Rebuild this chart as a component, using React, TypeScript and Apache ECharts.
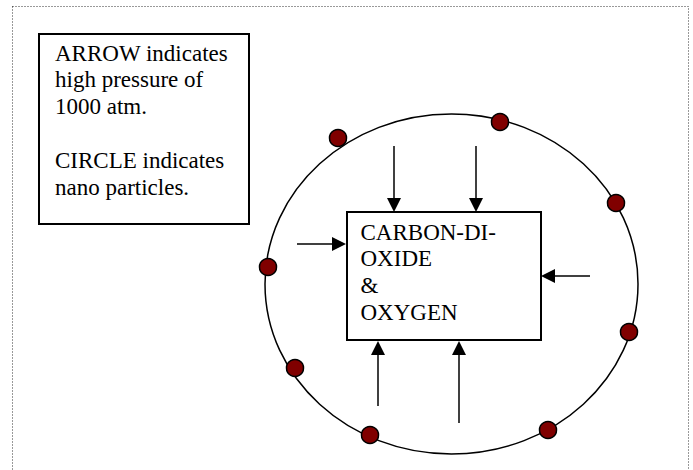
import React, { useEffect, useRef } from "react";
import * as echarts from "echarts";

// Nanoparticles (dots) on the ring, in pixel-like data units
const dotX = [338, 500, 616, 629, 548, 370, 295, 268];
const dotY = [138, 122, 203, 332, 430, 435, 368, 267];

// Pressure arrows: start and tip
const arrowFromX = [394, 476, 297, 590, 378, 459];
const arrowFromY = [146, 146, 244, 276, 406, 423];
const arrowToX = [394, 476, 346, 541, 378, 459];
const arrowToY = [212, 212, 244, 276, 341, 341];

const legendLines = [
  "ARROW indicates",
  "high pressure of",
  "1000 atm.",
  "",
  "CIRCLE indicates",
  "nano particles.",
];
const boxLines = ["CARBON-DI-", "OXIDE", "&", "OXYGEN"];

const W = 693;
const H = 470;
const FONT = "Liberation Serif";
const HEAD = 14;
const LH = 26.8;

export default function App() {
  const ref = useRef<HTMLDivElement>(null);
  useEffect(() => {
    if (!ref.current) return;
    const chart = echarts.init(ref.current, undefined, { renderer: "svg" });
    const arrows = arrowFromX.map((fx, i) => {
      const fy = arrowFromY[i];
      const tx = arrowToX[i];
      const ty = arrowToY[i];
      const len = Math.hypot(tx - fx, ty - fy);
      const ux = (tx - fx) / len;
      const uy = (ty - fy) / len;
      return {
        coords: [
          [fx, fy],
          [tx - (ux * HEAD) / 2, ty - (uy * HEAD) / 2],
        ],
      };
    });
    const textLines = (lines: string[], x: number, y0: number) =>
      lines
        .map((t, i) => ({ t, i }))
        .filter((d) => d.t !== "")
        .map((d) => ({
          type: "text",
          x,
          y: y0 + d.i * LH,
          style: {
            text: d.t,
            fontSize: 23,
            fontFamily: FONT,
            fill: "#000",
          },
        }));
    chart.setOption({
      animation: false,
      grid: { left: 0, right: 0, top: 0, bottom: 0 },
      xAxis: { type: "value", min: 0, max: W, show: false },
      yAxis: { type: "value", min: 0, max: H, inverse: true, show: false },
      graphic: [
        {
          type: "rect",
          shape: { x: 12.5, y: 6.5, width: 676, height: 520 },
          style: { fill: "none", stroke: "#333", lineWidth: 1, lineDash: [1, 2] },
        },
        {
          type: "rect",
          shape: { x: 39, y: 34, width: 210, height: 190 },
          style: { fill: "none", stroke: "#000", lineWidth: 2 },
        },
        {
          type: "ellipse",
          shape: { cx: 451.5, cy: 284, rx: 186.5, ry: 170 },
          style: { fill: "none", stroke: "#000", lineWidth: 1.5 },
        },
        {
          type: "rect",
          shape: { x: 347, y: 212, width: 194, height: 128 },
          style: { fill: "none", stroke: "#000", lineWidth: 2 },
        },
        ...textLines(legendLines, 55, 41.5),
        ...textLines(boxLines, 360.5, 220.5),
      ],
      series: [
        {
          type: "lines",
          coordinateSystem: "cartesian2d",
          symbol: ["none", "triangle"],
          symbolSize: HEAD,
          lineStyle: { color: "#000", width: 1.5, opacity: 1, curveness: 0 },
          itemStyle: { color: "#000" },
          data: arrows,
          silent: true,
          z: 3,
        },
        {
          type: "scatter",
          data: dotX.map((x, i) => [x, dotY[i]]),
          symbol: "circle",
          symbolSize: 17,
          itemStyle: { color: "#800000", borderColor: "#000", borderWidth: 1.5, opacity: 1 },
          silent: true,
          z: 4,
        },
      ],
    });
    return () => chart.dispose();
  }, []);
  return (
    <div
      ref={ref}
      style={{ position: "absolute", left: 0, top: 0, width: W, height: H }}
    />
  );
}
